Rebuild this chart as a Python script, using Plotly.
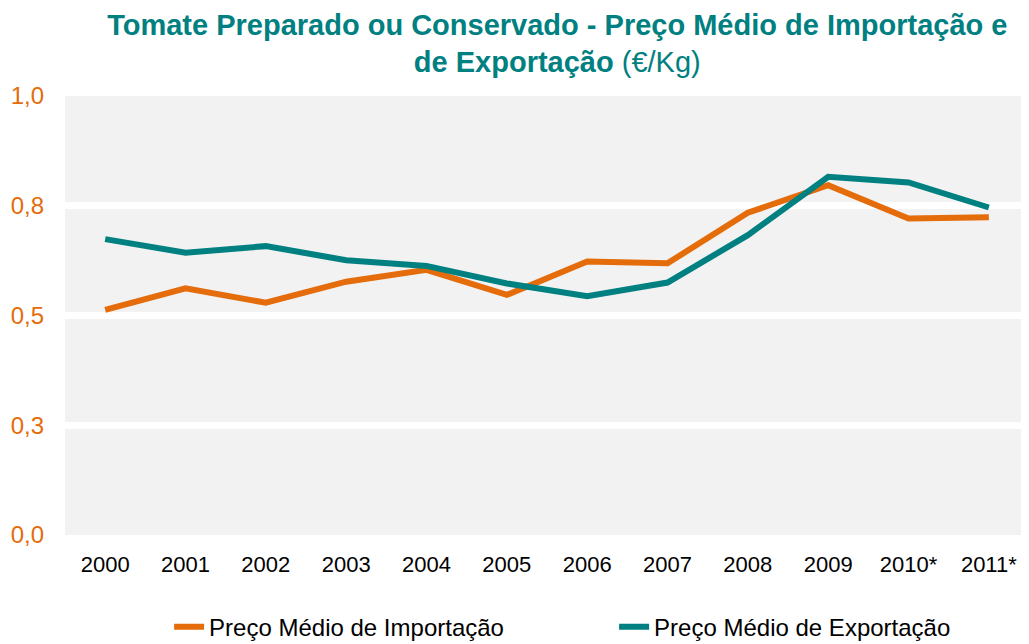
import plotly.graph_objects as go

years = ["2000", "2001", "2002", "2003", "2004", "2005", "2006", "2007", "2008", "2009", "2010*", "2011*"]
import_price = [0.513, 0.562, 0.529, 0.577, 0.604, 0.547, 0.623, 0.619, 0.734, 0.797, 0.721, 0.724]
export_price = [0.674, 0.643, 0.658, 0.626, 0.613, 0.573, 0.544, 0.575, 0.683, 0.816, 0.803, 0.746]
ytick_vals = [0, 0.25, 0.5, 0.75, 1.0]
ytick_text = ["0,0", "0,3", "0,5", "0,8", "1,0"]

ORANGE = "#E46C0A"
TEAL = "#008080"
FONT = "Liberation Sans, Arial, sans-serif"

fig = go.Figure()
fig.add_trace(go.Scatter(x=years, y=import_price, mode="lines", name="Preço Médio de Importação",
                         line=dict(color=ORANGE, width=6)))
fig.add_trace(go.Scatter(x=years, y=export_price, mode="lines", name="Preço Médio de Exportação",
                         line=dict(color=TEAL, width=6)))

fig.update_layout(
    width=1021, height=636,
    margin=dict(l=57, r=0, t=88, b=109, autoexpand=False),
    paper_bgcolor="white", plot_bgcolor="#F2F2F2",
    font=dict(family=FONT, color="#000000"),
    title=dict(
        text="<b>Tomate Preparado ou Conservado - Preço Médio de Importação e<br>de Exportação</b> (€/Kg)",
        x=0.538, xanchor="center", y=0.958, yanchor="middle",
        font=dict(size=29, color=TEAL, family=FONT),
    ),
    xaxis=dict(type="category", range=[-0.5, 11.5], showgrid=False, zeroline=False, showline=False,
               ticks="", automargin=False,
               tickfont=dict(size=22, color="#000000"), ticklabelstandoff=14),
    yaxis=dict(range=[0, 1.0], tickvals=ytick_vals, ticktext=ytick_text, automargin=False,
               showgrid=True, gridcolor="white", gridwidth=7, zeroline=False, showline=False,
               tickfont=dict(size=24, color=ORANGE), ticklabelstandoff=20),
    legend=dict(orientation="h", x=0.108, xanchor="left", y=-0.21, yanchor="middle",
                font=dict(size=24, color="#000000"), entrywidth=400),
    showlegend=True,
)

fig.write_html("out.html")
